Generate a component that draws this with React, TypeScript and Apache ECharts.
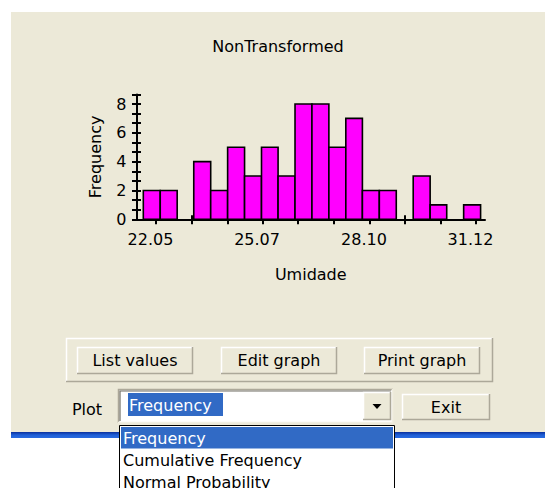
import React, { useEffect, useRef } from "react";
import * as echarts from "echarts";

const binEdges = [21.69, 22.17, 22.65, 23.12, 23.6, 24.08, 24.56, 25.04, 25.51, 25.99, 26.47, 26.95, 27.43, 27.9, 28.38, 28.86, 29.34, 29.82, 30.29, 30.77, 31.25];
const counts = [2, 2, 0, 4, 2, 5, 3, 5, 3, 8, 8, 5, 7, 2, 2, 0, 3, 1, 0, 1];
const xTickValues = [22.05, 23.06, 24.07, 25.07, 26.08, 27.09, 28.1, 29.1, 30.11, 31.12];
const xLabelValues = [22.05, 25.07, 28.1, 31.12];
const yTickValues = [0, 0.667, 1.333, 2, 2.667, 3.333, 4, 4.667, 5.333, 6, 6.667, 7.333, 8, 8.667];
const yLabelValues = [0, 2, 4, 6, 8];
const chartTitle = "NonTransformed";
const xName = "Umidade";
const yName = "Frequency";
const buttonLabels = ["List values", "Edit graph", "Print graph"];
const plotLabel = "Plot";
const exitLabel = "Exit";
const plotOptions = ["Frequency", "Cumulative Frequency", "Normal Probability"];

const FONT = "DejaVu Sans";
const FACE = "#ECE9D8";
const SHADOW = "#ACA899";
const DARK = "#716F64";
const SEL = "#316AC5";

function raised(x: number, y: number, w: number, h: number, z = 5): any[] {
  return [
    { type: "rect", z, shape: { x, y, width: w, height: h }, style: { fill: FACE } },
    { type: "polyline", z: z + 1, shape: { points: [[x + 0.5, y + h], [x + 0.5, y + 0.5], [x + w, y + 0.5]] }, style: { stroke: "#FFFFFF", lineWidth: 1.5, fill: null } },
    { type: "polyline", z: z + 1, shape: { points: [[x, y + h - 0.5], [x + w - 0.5, y + h - 0.5], [x + w - 0.5, y]] }, style: { stroke: SHADOW, lineWidth: 1.5, fill: null } },
  ];
}

function label(text: string, x: number, y: number, opts: any = {}): any {
  return {
    type: "text",
    z: opts.z ?? 10,
    x,
    y,
    style: {
      text,
      fill: opts.fill ?? "#000",
      font: `${opts.size ?? 16}px "${FONT}"`,
      align: opts.align ?? "center",
      verticalAlign: "middle",
    },
  };
}

export default function App() {
  const ref = useRef<HTMLDivElement>(null);
  useEffect(() => {
    if (!ref.current) return;
    const chart = echarts.init(ref.current, null, { renderer: "svg" });
    const data = counts.map((c, i) => [binEdges[i], binEdges[i + 1], c]);
    const xMin = 21.497;
    const xMax = 31.375;
    const axisColor = "#000";

    const graphics: any[] = [];
    // page: white margins and beige panel
    graphics.push({ type: "rect", z: -20, shape: { x: 0, y: 0, width: 545, height: 488 }, style: { fill: "#FFFFFF" } });
    graphics.push({ type: "rect", z: -19, shape: { x: 11, y: 12, width: 534, height: 420 }, style: { fill: FACE } });
    // title
    graphics.push(label(chartTitle, 278, 46, { z: 1 }));
    // group box
    graphics.push({ type: "polyline", z: 2, shape: { points: [[66.5, 382], [66.5, 338.5], [493, 338.5]] }, style: { stroke: "#FFFFFF", lineWidth: 1.5, fill: null } });
    graphics.push({ type: "polyline", z: 2, shape: { points: [[66, 381.5], [492.5, 381.5], [492.5, 338]] }, style: { stroke: SHADOW, lineWidth: 1.5, fill: null } });
    // buttons
    const btnBoxes = [
      [77, 347, 116, 27],
      [221, 347, 116, 27],
      [364, 347, 116, 27],
    ];
    btnBoxes.forEach((b, i) => {
      graphics.push(...raised(b[0], b[1], b[2], b[3]));
      graphics.push(label(buttonLabels[i], b[0] + b[2] / 2, b[1] + b[3] / 2));
    });
    // Plot label
    graphics.push(label(plotLabel, 87, 409));
    // combo box (sunken)
    graphics.push({ type: "rect", z: 5, shape: { x: 118, y: 389, width: 275, height: 34 }, style: { fill: "#FFFFFF" } });
    graphics.push({ type: "polyline", z: 6, shape: { points: [[118.5, 423], [118.5, 389.5], [393, 389.5]] }, style: { stroke: SHADOW, lineWidth: 1.5, fill: null } });
    graphics.push({ type: "polyline", z: 6, shape: { points: [[120, 421], [120, 391], [391, 391]] }, style: { stroke: DARK, lineWidth: 1.2, fill: null } });
    graphics.push({ type: "polyline", z: 6, shape: { points: [[118, 422.5], [392.5, 422.5], [392.5, 389]] }, style: { stroke: "#F1EFE2", lineWidth: 1.5, fill: null } });
    graphics.push({ type: "rect", z: 7, shape: { x: 128, y: 393, width: 95, height: 23 }, style: { fill: SEL } });
    graphics.push(label(plotOptions[0], 129, 405, { align: "left", fill: "#FFFFFF", z: 8 }));
    // dropdown button
    graphics.push(...raised(363, 392, 28, 28, 7));
    graphics.push({ type: "polygon", z: 9, shape: { points: [[372.5, 404], [381.5, 404], [377, 409]] }, style: { fill: "#000" } });
    // exit button
    graphics.push(...raised(402, 394, 88, 26));
    graphics.push(label(exitLabel, 446, 407));
    // blue bar
    graphics.push({
      type: "rect",
      z: 3,
      shape: { x: 11, y: 432, width: 534, height: 6 },
      style: {
        fill: new echarts.graphic.LinearGradient(0, 0, 0, 1, [
          { offset: 0, color: "#0A2F9C" },
          { offset: 0.5, color: "#1F5FD6" },
          { offset: 1, color: "#2A6BE0" },
        ]),
      },
    });
    // dropdown list
    graphics.push({ type: "rect", z: 20, shape: { x: 119.5, y: 425.5, width: 275, height: 70 }, style: { fill: "#FFFFFF", stroke: "#000", lineWidth: 1 } });
    graphics.push({ type: "rect", z: 21, shape: { x: 121, y: 427, width: 272, height: 21.5 }, style: { fill: SEL } });
    graphics.push(label(plotOptions[0], 123, 438, { align: "left", fill: "#FFFFFF", z: 22 }));
    graphics.push(label(plotOptions[1], 123, 460, { align: "left", z: 22 }));
    graphics.push(label(plotOptions[2], 123, 482, { align: "left", z: 22 }));

    const tickStyle = { color: axisColor, width: 2 };
    chart.setOption({
      animation: false,
      textStyle: { fontFamily: FONT },
      grid: { left: 136.5, right: 60, top: 94.4, bottom: 268.7, containLabel: false },
      xAxis: [
        {
          type: "value",
          min: xMin,
          max: xMax,
          position: "bottom",
          name: xName,
          nameLocation: "middle",
          nameGap: 47,
          nameTextStyle: { color: "#000", fontSize: 16, fontFamily: FONT },
          axisLine: { show: true, lineStyle: { color: axisColor, width: 2 } },
          axisTick: { show: true, customValues: xTickValues, length: 5, lineStyle: tickStyle },
          axisLabel: {
            customValues: xLabelValues,
            formatter: (v: number) => v.toFixed(2),
            color: "#000",
            fontSize: 16,
            fontFamily: FONT,
            margin: 12,
            padding: [0, 11, 0, 0],
          },
          splitLine: { show: false },
        },
        {
          type: "value",
          min: xMin,
          max: xMax,
          position: "bottom",
          axisLine: { show: false },
          axisTick: { show: true, inside: true, customValues: xTickValues, length: 4, lineStyle: tickStyle },
          axisLabel: { show: false },
          splitLine: { show: false },
        },
      ],
      yAxis: [
        {
          type: "value",
          min: 0,
          max: 8.667,
          position: "left",
          name: yName,
          nameLocation: "middle",
          nameGap: 33,
          nameTextStyle: { color: "#000", fontSize: 16, fontFamily: FONT },
          axisLine: { show: true, lineStyle: { color: axisColor, width: 2 } },
          axisTick: { show: true, customValues: yTickValues, length: 4.5, lineStyle: tickStyle },
          axisLabel: { customValues: yLabelValues, color: "#000", fontSize: 16, fontFamily: FONT, margin: 10 },
          splitLine: { show: false },
        },
        {
          type: "value",
          min: 0,
          max: 8.667,
          position: "left",
          axisLine: { show: false },
          axisTick: { show: true, inside: true, customValues: yTickValues, length: 4.5, lineStyle: tickStyle },
          axisLabel: { show: false },
          splitLine: { show: false },
        },
      ],
      graphic: { elements: graphics },
      series: [
        {
          type: "custom",
          xAxisIndex: 0,
          yAxisIndex: 0,
          z: 4,
          encode: { x: [0, 1], y: 2 },
          data,
          renderItem: (params: any, api: any) => {
            const c = api.value(2);
            if (!c) return null;
            const p0 = api.coord([api.value(0), 0]);
            const p1 = api.coord([api.value(1), c]);
            return {
              type: "rect",
              shape: { x: p0[0], y: p1[1], width: p1[0] - p0[0], height: p0[1] - p1[1] },
              style: { fill: "#FF00FF", stroke: "#000", lineWidth: 1.6 },
            };
          },
        },
      ],
    });
    return () => chart.dispose();
  }, []);
  return (
    <div
      ref={ref}
      style={{ position: "fixed", left: 0, top: 0, width: 545, height: 488, background: "#FFFFFF" }}
    />
  );
}
